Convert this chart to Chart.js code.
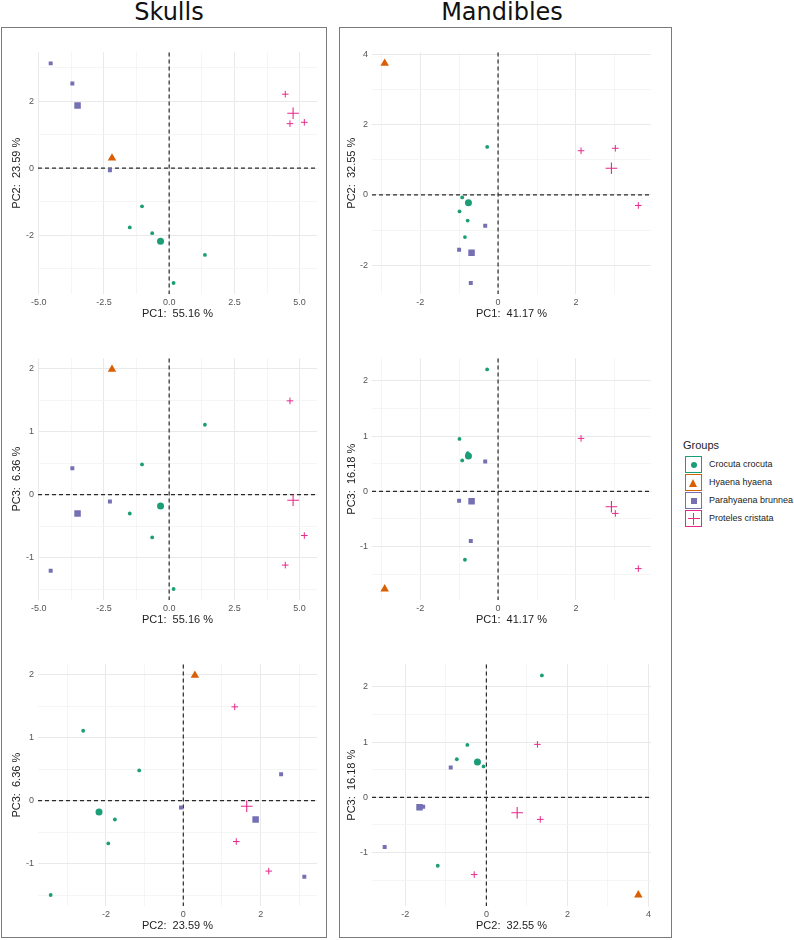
<!DOCTYPE html>
<html><head><meta charset="utf-8">
<script src="https://cdn.jsdelivr.net/npm/chart.js@4.4.0/dist/chart.umd.min.js"></script>
<style>
html,body{margin:0;padding:0;background:#fff;}
#page{position:relative;width:794px;height:940px;overflow:hidden;background:#fff;}
.box{position:absolute;box-sizing:border-box;border:1.5px solid #7a7a7a;}
.title{position:absolute;top:1px;width:300px;text-align:center;font-family:"DejaVu Sans",sans-serif;font-size:24px;line-height:23px;color:#111;}
canvas{position:absolute;}
#legend{position:absolute;left:683px;top:438px;font-family:"Liberation Sans",Arial,sans-serif;color:#222;}
#legend .lt{font-size:11px;line-height:14px;margin-bottom:4px;}
#legend .row{position:relative;height:18px;}
#legend .key{position:absolute;left:2px;top:0;width:17px;height:17px;box-sizing:border-box;border:1.3px solid;background:#fff;}
#legend .lab{position:absolute;left:26px;top:0;line-height:17px;font-size:9px;white-space:nowrap;}
.mk{position:absolute;}
</style>
</head><body>
<div id="page">
  <div class="box" style="left:1px;top:27px;width:326px;height:911px"></div>
  <div class="box" style="left:339px;top:27px;width:333px;height:911px"></div>
  <div class="title" style="left:19px">Skulls</div>
  <div class="title" style="left:352px">Mandibles</div>
  <div id="legend"></div>
</div>
<script>
// ---------------- DATA ----------------
const groupNames = ["Crocuta crocuta", "Hyaena hyaena", "Parahyaena brunnea", "Proteles cristata"];
const groupColors = ["#1b9e77", "#d95f02", "#7570b3", "#e7298a"];

// Skulls: each specimen = [PC1, PC2, PC3]
const skullCrocuta    = [[-1.04, -1.14, 0.48], [-1.51, -1.77, -0.30], [-0.65, -1.94, -0.68], [1.37, -2.59, 1.11], [0.17, -3.43, -1.50]];
const skullHyaena     = [[-2.19, 0.30, 1.99]];
const skullParahyaena = [[-4.54, 3.13, -1.21], [-3.71, 2.53, 0.42], [-2.27, -0.06, -0.11]];
const skullProteles   = [[4.45, 2.21, -1.12], [4.63, 1.33, 1.49], [5.18, 1.37, -0.65]];
const skullCentroids  = [[-0.33, -2.18, -0.18], [-2.19, 0.30, 1.99], [-3.51, 1.87, -0.30], [4.75, 1.64, -0.09]];
const skullVariance   = [55.16, 23.59, 6.36];

// Mandibles: each specimen = [PC1, PC2, PC3]
const mandCrocuta    = [[-0.28, 1.37, 2.21], [-0.92, -0.07, 0.56], [-0.99, -0.47, 0.95], [-0.78, -0.73, 0.69], [-0.85, -1.20, -1.24]];
const mandHyaena     = [[-2.91, 3.75, -1.77]];
const mandParahyaena = [[-0.33, -0.88, 0.54], [-1.00, -1.56, -0.17], [-0.70, -2.51, -0.90]];
const mandProteles   = [[2.13, 1.26, 0.96], [3.01, 1.33, -0.40], [3.60, -0.30, -1.40]];
const mandCentroids  = [[-0.76, -0.22, 0.64], [-2.91, 3.75, -1.77], [-0.68, -1.65, -0.18], [2.91, 0.76, -0.28]];
const mandVariance   = [41.17, 32.55, 16.18];

// Tick values / labels per PC
const skullMajor       = [[-5, -2.5, 0, 2.5, 5], [-2, 0, 2], [-1, 0, 1, 2]];
const skullMajorLabels = [["-5.0", "-2.5", "0.0", "2.5", "5.0"], ["-2", "0", "2"], ["-1", "0", "1", "2"]];
const skullMinor       = [[-3.75, -1.25, 1.25, 3.75], [-3, -1, 1, 3], [-1.5, -0.5, 0.5, 1.5]];
const mandMajor        = [[-2, 0, 2], [-2, 0, 2, 4], [-1, 0, 1, 2]];
const mandMajorLabels  = [["-2", "0", "2"], ["-2", "0", "2", "4"], ["-1", "0", "1", "2"]];
const mandMinor        = [[-3, -1, 1, 3], [-3, -1, 1, 3], [-1.5, -0.5, 0.5, 1.5]];

const panelPairs = [[0, 1], [0, 2], [1, 2]];

// ---------------- STYLE / LAYOUT ----------------
const shapes = ["circle", "triangle", "rect", "cross"];
const smallR = [1.9, 4.9, 2.8, 3.3];
const bigR   = [3.5, 4.9, 4.6, 5.8];
const rowTops = [51, 357, 663];
const plotH = 243;
const columns = [
  {canvasLeft: 2, canvasWidth: 324, yAxisW: 36, padRight: 9, titlePad: 8.4},
  {canvasLeft: 340, canvasWidth: 330, yAxisW: 32, padRight: 19, titlePad: 5.4}
];

const zeroLines = {
  id: 'zeroLines',
  beforeDatasetsDraw(chart) {
    const {ctx, chartArea: a, scales: {x, y}} = chart;
    const px = x.getPixelForValue(0), py = y.getPixelForValue(0);
    ctx.save();
    ctx.strokeStyle = '#2a2a2a';
    ctx.lineWidth = 1.2;
    ctx.setLineDash([4, 3]);
    ctx.beginPath();
    ctx.moveTo(a.left, py); ctx.lineTo(a.right, py);
    ctx.moveTo(px, a.top); ctx.lineTo(px, a.bottom);
    ctx.stroke();
    ctx.restore();
  }
};

function limits(vals) {
  const mn = Math.min(...vals), mx = Math.max(...vals), pad = (mx - mn) * 0.05;
  return [mn - pad, mx + pad];
}

function axisCfg(k, all, major, labels, minor, variance, isX, col) {
  const vals = all.map(p => p[k]);
  const [mn, mx] = limits(vals);
  const maj = major[k], lab = labels[k], mnr = minor[k];
  const isMaj = v => maj.some(m => Math.abs(m - v) < 1e-9);
  const cfg = {
    type: 'linear', min: mn, max: mx,
    border: {display: false},
    grid: {
      drawTicks: false,
      color: ctx => isMaj(ctx.tick.value) ? '#e9e9e9' : '#f3f3f3',
      lineWidth: ctx => isMaj(ctx.tick.value) ? 1 : 0.8
    },
    afterBuildTicks: s => {
      s.ticks = maj.concat(mnr).filter(v => v >= mn && v <= mx).sort((a, b) => a - b).map(v => ({value: v}));
    },
    ticks: {
      autoSkip: false, maxRotation: 0, minRotation: 0,
      padding: isX ? 3 : 4,
      color: '#555',
      font: {family: '"Liberation Sans", Arial, sans-serif', size: 9},
      callback: v => { const i = maj.findIndex(m => Math.abs(m - v) < 1e-9); return i >= 0 ? lab[i] : ''; }
    },
    title: {
      display: true,
      text: 'PC' + (k + 1) + ':  ' + variance[k].toFixed(2) + ' %',
      color: '#222',
      font: {family: '"Liberation Sans", Arial, sans-serif', size: 11},
      padding: isX ? {top: 0, bottom: 3} : {top: col.titlePad, bottom: 0}
    },
    afterFit: s => { if (isX) s.height = 30; else s.width = col.yAxisW; }
  };
  return cfg;
}

function buildPanel(colIdx, row, groupsData, centroids, variance, major, labels, minor) {
  const col = columns[colIdx];
  const [xi, yi] = panelPairs[row];
  const all = [].concat(...groupsData, centroids);
  const datasets = [];
  groupsData.forEach((g, gi) => {
    if (gi !== 1) {
      datasets.push({
        data: g.map(p => ({x: p[xi], y: p[yi]})),
        pointStyle: shapes[gi], pointRadius: smallR[gi],
        backgroundColor: groupColors[gi], borderColor: groupColors[gi],
        borderWidth: gi === 3 ? 1 : 0
      });
    }
    datasets.push({
      data: [{x: centroids[gi][xi], y: centroids[gi][yi]}],
      pointStyle: shapes[gi], pointRadius: bigR[gi],
      backgroundColor: groupColors[gi], borderColor: groupColors[gi],
      borderWidth: gi === 3 ? 1.1 : 0
    });
  });
  const padTop = 8;
  const cv = document.createElement('canvas');
  cv.width = col.canvasWidth;
  cv.height = padTop + plotH + 30;
  cv.style.left = col.canvasLeft + 'px';
  cv.style.top = (rowTops[row] - padTop) + 'px';
  document.getElementById('page').appendChild(cv);
  new Chart(cv, {
    type: 'scatter',
    data: {datasets},
    options: {
      responsive: false, animation: false, events: [],
      layout: {padding: {top: padTop, right: col.padRight, left: 0, bottom: 0}},
      plugins: {legend: {display: false}, tooltip: {enabled: false}},
      scales: {
        x: axisCfg(xi, all, major, labels, minor, variance, true, col),
        y: axisCfg(yi, all, major, labels, minor, variance, false, col)
      }
    },
    plugins: [zeroLines]
  });
}

const skullGroups = [skullCrocuta, skullHyaena, skullParahyaena, skullProteles];
const mandGroups = [mandCrocuta, mandHyaena, mandParahyaena, mandProteles];
for (let r = 0; r < 3; r++) {
  buildPanel(0, r, skullGroups, skullCentroids, skullVariance, skullMajor, skullMajorLabels, skullMinor);
  buildPanel(1, r, mandGroups, mandCentroids, mandVariance, mandMajor, mandMajorLabels, mandMinor);
}

// ---------------- LEGEND ----------------
const lg = document.getElementById('legend');
lg.innerHTML = '<div class="lt">Groups</div>';
groupNames.forEach((name, i) => {
  const c = groupColors[i];
  let mk = '';
  if (i === 0) mk = `<div class="mk" style="left:4.5px;top:4.5px;width:6.5px;height:6.5px;border-radius:50%;background:${c}"></div>`;
  if (i === 1) mk = `<div class="mk" style="left:3px;top:3.5px;width:0;height:0;border-left:4.5px solid transparent;border-right:4.5px solid transparent;border-bottom:8px solid ${c}"></div>`;
  if (i === 2) mk = `<div class="mk" style="left:4.5px;top:4.5px;width:6.5px;height:6.5px;background:${c}"></div>`;
  if (i === 3) mk = `<div class="mk" style="left:1.5px;top:7.3px;width:12px;height:1px;background:${c}"></div><div class="mk" style="left:7.2px;top:1.5px;width:1px;height:12px;background:${c}"></div>`;
  lg.innerHTML += `<div class="row"><div class="key" style="border-color:${c}">${mk}</div><div class="lab">${name}</div></div>`;
});
</script>
</body></html>
